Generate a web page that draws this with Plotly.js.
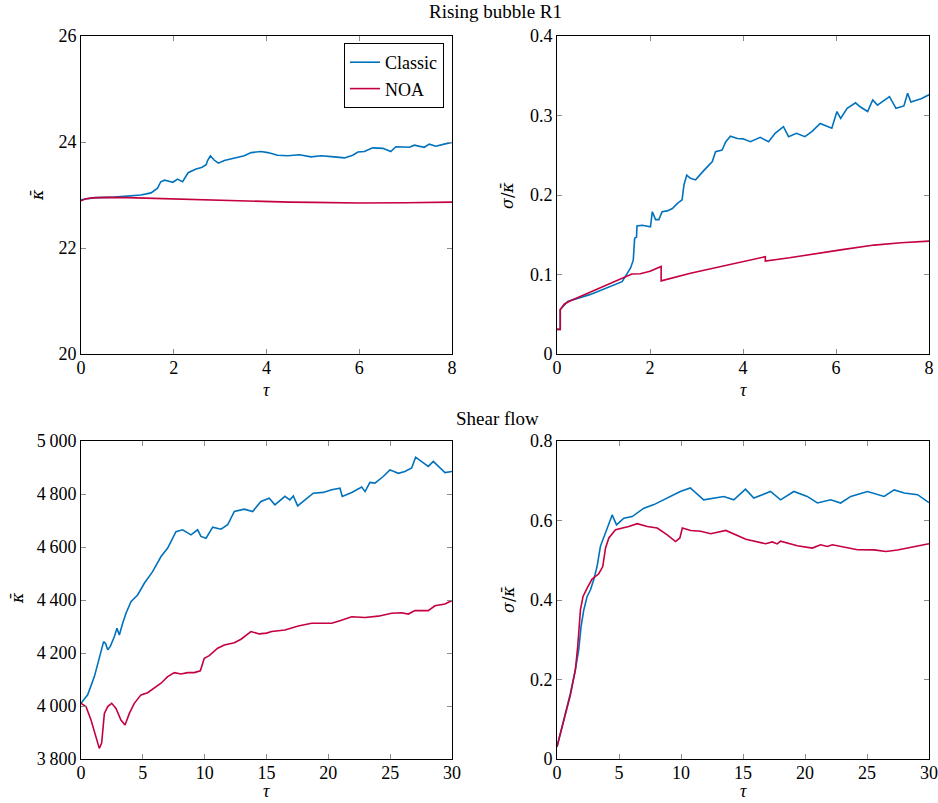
<!DOCTYPE html>
<html>
<head>
<meta charset="utf-8">
<script src="https://cdn.plot.ly/plotly-3.0.1.min.js"></script>
<style>html,body{margin:0;padding:0;background:#fff}#chart{width:938px;height:803px}</style>
</head>
<body>
<div id="chart"></div>
<script>
// ---- Rising bubble R1: mean curvature ----
const tlTauClassic = [0,0.3,0.72,1.0,1.29,1.51,1.65,1.72,1.80,1.90,1.98,2.08,2.19,2.31,2.48,2.60,2.70,2.73,2.79,2.87,2.96,3.09,3.31,3.52,3.67,3.88,4.03,4.24,4.46,4.71,4.96,5.18,5.46,5.68,5.86,5.97,6.11,6.29,6.51,6.68,6.79,7.08,7.19,7.40,7.51,7.65,7.83,8.0];
const tlClassic = [22.91,22.95,22.96,22.98,23.0,23.04,23.13,23.25,23.28,23.26,23.24,23.30,23.25,23.42,23.49,23.52,23.57,23.65,23.74,23.66,23.60,23.65,23.69,23.74,23.80,23.82,23.80,23.75,23.74,23.76,23.72,23.74,23.72,23.70,23.75,23.81,23.82,23.89,23.88,23.82,23.91,23.90,23.94,23.90,23.96,23.92,23.96,23.99];
const tlTauNOA = [0,0.1,0.25,0.6,1.0,1.4,1.8,2.2,2.8,3.6,4.5,5.0,6.0,7.0,8.0];
const tlNOA = [22.89,22.93,22.945,22.955,22.95,22.94,22.93,22.92,22.905,22.88,22.865,22.86,22.85,22.855,22.865];

// ---- Rising bubble R1: sigma / mean curvature ----
const trTauClassic = [0,0.07,0.07,0.23,0.72,1.08,1.40,1.51,1.58,1.64,1.67,1.71,1.72,1.83,2.01,2.05,2.12,2.19,2.26,2.37,2.48,2.59,2.69,2.73,2.79,2.87,2.98,3.16,3.34,3.41,3.55,3.63,3.73,3.88,4.00,4.16,4.37,4.55,4.69,4.87,4.98,5.15,5.33,5.48,5.66,5.91,6.02,6.10,6.24,6.42,6.52,6.68,6.79,6.89,7.15,7.29,7.46,7.54,7.61,7.83,8.0];
const trClassic = [0.031,0.031,0.056,0.066,0.075,0.084,0.091,0.1015,0.108,0.118,0.1455,0.147,0.161,0.162,0.160,0.179,0.169,0.169,0.179,0.180,0.183,0.1895,0.194,0.2126,0.225,0.221,0.219,0.231,0.242,0.2545,0.2566,0.267,0.274,0.271,0.2706,0.267,0.2725,0.267,0.2776,0.286,0.2734,0.2776,0.2734,0.2797,0.290,0.284,0.305,0.2964,0.309,0.316,0.311,0.305,0.3195,0.313,0.3237,0.309,0.312,0.328,0.317,0.321,0.326];
const trTauNOA = [0,0.07,0.07,0.16,0.29,0.72,1.08,1.47,1.61,1.79,2.0,2.24,2.24,2.87,3.5,4.09,4.48,4.48,5.0,6.10,6.82,7.4,8.0];
const trNOA = [0.031,0.031,0.056,0.063,0.067,0.078,0.088,0.097,0.1007,0.101,0.104,0.110,0.092,0.1015,0.110,0.118,0.1224,0.117,0.121,0.131,0.137,0.140,0.142];

// ---- Shear flow: mean curvature ----
const blTauClassic = [0,0.54,1.08,1.48,1.83,1.99,2.16,2.37,2.70,2.91,3.10,3.37,3.64,4.04,4.58,5.12,5.79,6.47,7.01,7.68,8.22,8.89,9.43,9.70,10.11,10.65,11.32,11.86,12.40,13.20,13.88,14.55,15.22,15.68,16.49,16.89,17.17,17.52,18.25,18.78,19.59,20.27,20.94,21.13,21.89,22.70,22.97,23.36,23.77,24.44,24.98,25.66,26.19,26.74,27.06,27.54,28.08,28.49,28.89,29.43,30.0];
const blClassic = [4010,4042,4111,4180,4243,4235,4212,4225,4262,4293,4268,4312,4350,4394,4419,4463,4507,4564,4596,4658,4665,4646,4665,4640,4633,4675,4667,4684,4734,4743,4734,4772,4784,4759,4791,4778,4793,4755,4784,4803,4806,4816,4822,4791,4806,4826,4809,4844,4841,4866,4891,4878,4885,4898,4939,4923,4904,4923,4904,4881,4885];
const blTauNOA = [0,0.40,0.81,1.21,1.48,1.67,1.89,2.16,2.48,2.83,3.23,3.56,3.91,4.31,4.85,5.39,5.93,6.47,7.01,7.55,8.08,8.62,9.16,9.65,9.97,10.37,11.05,11.59,12.40,12.94,13.74,14.42,15.0,15.42,16.49,17.57,18.65,20.27,20.94,21.89,22.96,24.04,25.12,25.93,26.47,27.0,28.08,28.62,29.43,30.0];
const blNOA = [4010,3998,3947,3884,3840,3860,3972,3998,4010,3991,3947,3928,3972,4010,4042,4050,4067,4086,4111,4126,4121,4126,4126,4133,4180,4190,4218,4230,4239,4252,4281,4272,4275,4281,4287,4302,4312,4312,4322,4337,4334,4339,4350,4352,4347,4360,4360,4378,4385,4398];

// ---- Shear flow: sigma / mean curvature ----
const brTauClassic = [0,0.54,1.08,1.48,1.75,1.94,2.16,2.43,2.70,2.96,3.23,3.50,3.91,4.31,4.45,4.80,5.39,6.06,6.47,7.01,7.82,8.62,9.94,10.75,11.83,13.45,14.26,15.20,15.87,17.22,18.03,19.10,20.18,21.0,22.07,22.88,23.69,25.04,26.38,27.19,28.0,29.08,30.0];
const brClassic = [0.031,0.098,0.165,0.224,0.2745,0.333,0.375,0.409,0.4256,0.451,0.484,0.535,0.568,0.602,0.614,0.589,0.606,0.610,0.619,0.631,0.640,0.652,0.673,0.682,0.652,0.6605,0.652,0.679,0.6565,0.673,0.652,0.673,0.6605,0.644,0.652,0.644,0.6605,0.673,0.6605,0.677,0.669,0.665,0.645];
const brTauNOA = [0,0.54,1.08,1.48,1.67,1.89,2.10,2.43,2.83,3.37,3.69,3.91,4.18,4.72,5.39,5.79,6.47,7.28,8.08,8.89,9.56,9.91,10.11,10.78,11.59,12.40,13.61,14.42,15.23,16.82,17.36,17.76,18.03,19.38,20.59,21.26,21.80,22.21,23.42,24.23,25.58,26.52,27.46,28.27,29.35,30.0];
const brNOA = [0.031,0.098,0.161,0.224,0.283,0.375,0.409,0.430,0.4525,0.466,0.484,0.5305,0.556,0.577,0.581,0.585,0.592,0.585,0.581,0.564,0.547,0.556,0.581,0.575,0.573,0.5666,0.575,0.564,0.553,0.5414,0.546,0.541,0.548,0.5364,0.5306,0.539,0.5347,0.539,0.5306,0.5263,0.526,0.522,0.526,0.531,0.539,0.5414];

// tick labels
const tickTauShort = [0,2,4,6,8];
const tickTauLong = [0,5,10,15,20,25,30];
const tickKappaR = [20,22,24,26];
const tickSigmaR = [0,0.1,0.2,0.3,0.4];
const tickSigmaRText = ['0','0.1','0.2','0.3','0.4'];
const tickKappaS = [3800,4000,4200,4400,4600,4800,5000];
const tickKappaSText = ['3\u2009800','4\u2009000','4\u2009200','4\u2009400','4\u2009600','4\u2009800','5\u2009000'];
const tickSigmaS = [0,0.2,0.4,0.6,0.8];
const tickSigmaSText = ['0','0.2','0.4','0.6','0.8'];

const BLUE = '#0072bd';
const RED = '#c5003e';
const FONT = 'Liberation Serif';
const MATHFONT = 'DejaVu Serif';
const LW = 1.6;

function tr(x, y, name, color, xa, ya, show) {
  return {x: x, y: y, name: name, type: 'scatter', mode: 'lines',
    line: {color: color, width: LW}, xaxis: xa, yaxis: ya, showlegend: show, hoverinfo: 'skip'};
}

const data = [
  tr(tlTauClassic, tlClassic, 'Classic', BLUE, 'x', 'y', true),
  tr(tlTauNOA, tlNOA, 'NOA', RED, 'x', 'y', true),
  tr(trTauClassic, trClassic, 'Classic', BLUE, 'x2', 'y2', false),
  tr(trTauNOA, trNOA, 'NOA', RED, 'x2', 'y2', false),
  tr(blTauClassic, blClassic, 'Classic', BLUE, 'x3', 'y3', false),
  tr(blTauNOA, blNOA, 'NOA', RED, 'x3', 'y3', false),
  tr(brTauClassic, brClassic, 'Classic', BLUE, 'x4', 'y4', false),
  tr(brTauNOA, brNOA, 'NOA', RED, 'x4', 'y4', false)
];

const W = 938, H = 803;
function px(v) { return v / W; }
function py(v) { return 1 - v / H; }

function ax(domain, anchor, range, vals, text, isX) {
  const a = {domain: domain, anchor: anchor, range: range, tickmode: 'array', tickvals: vals,
    ticks: 'inside', ticklen: 5, tickwidth: 1, tickcolor: '#8c8c8c',
    showline: true, linecolor: '#000', linewidth: 1, mirror: 'ticks',
    showgrid: false, zeroline: false, automargin: false, fixedrange: true,
    tickfont: {family: FONT, size: 18, color: '#000'}};
  if (isX) a.ticklabelstandoff = -3;
  if (text) a.ticktext = text;
  return a;
}

const xL = [px(81), px(452)], xR = [px(557), px(929)];
const yT = [py(354), py(36)], yB = [py(759), py(441)];

function ann(text, x, y, size, angle, family, yanchor) {
  return {text: text, x: px(x), y: py(y), xref: 'paper', yref: 'paper', showarrow: false,
    xanchor: 'center', yanchor: yanchor || 'middle', textangle: angle || 0,
    font: {family: family || FONT, size: size, color: '#000'}};
}

const layout = {
  width: W, height: H,
  margin: {l: 0, r: 0, t: 0, b: 0},
  paper_bgcolor: '#fff', plot_bgcolor: '#fff',
  font: {family: FONT, size: 18, color: '#000'},
  showlegend: true,
  legend: {x: px(444), y: py(43), xanchor: 'right', yanchor: 'top',
    bordercolor: '#000', borderwidth: 1, bgcolor: '#fff',
    font: {family: FONT, size: 18, color: '#000'}, tracegroupgap: 0},
  xaxis: ax(xL, 'y', [0, 8], tickTauShort, null, true),
  yaxis: ax(yT, 'x', [20, 26], tickKappaR),
  xaxis2: ax(xR, 'y2', [0, 8], tickTauShort, null, true),
  yaxis2: ax(yT, 'x2', [0, 0.4], tickSigmaR, tickSigmaRText),
  xaxis3: ax(xL, 'y3', [0, 30], tickTauLong, null, true),
  yaxis3: ax(yB, 'x3', [3800, 5000], tickKappaS, tickKappaSText),
  xaxis4: ax(xR, 'y4', [0, 30], tickTauLong, null, true),
  yaxis4: ax(yB, 'x4', [0, 0.8], tickSigmaS, tickSigmaSText),
  annotations: [
    ann('Rising bubble R1', 495, 11, 19),
    ann('Shear flow', 498, 418, 19),
    ann('<i>τ</i>', 266, 378, 18, 0, FONT, 'top'),
    ann('<i>τ</i>', 743, 378, 18, 0, FONT, 'top'),
    ann('<i>τ</i>', 266, 803, 18, 0, FONT, 'bottom'),
    ann('<i>τ</i>', 743, 803, 18, 0, FONT, 'bottom'),
    ann('<i>κ̄</i>', 38, 195, 16, -90, MATHFONT),
    ann('<i>σ</i>/<i>κ̄</i>', 508, 196, 16, -90, MATHFONT),
    ann('<i>κ̄</i>', 17, 598, 16, -90, MATHFONT),
    ann('<i>σ</i>/<i>κ̄</i>', 508, 600, 16, -90, MATHFONT)
  ]
};

Plotly.newPlot('chart', data, layout, {staticPlot: true, displayModeBar: false});
</script>
</body>
</html>
